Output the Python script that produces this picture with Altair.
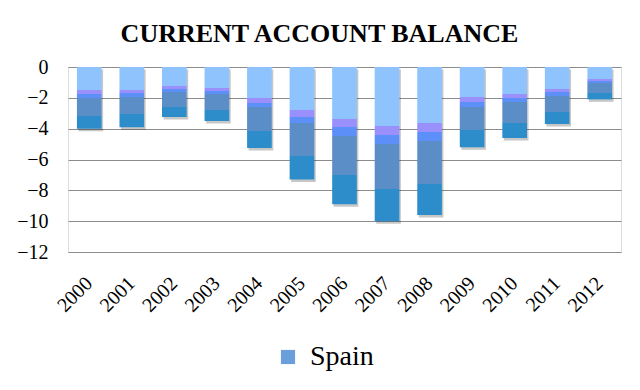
import altair as alt
import pandas as pd

years = ["2000", "2001", "2002", "2003", "2004", "2005", "2006",
         "2007", "2008", "2009", "2010", "2011", "2012"]
balance = [-4.0, -3.9, -3.25, -3.5, -5.25, -7.3, -8.9,
           -10.0, -9.6, -5.2, -4.6, -3.7, -2.1]
series = ["Spain"] * len(years)
y_ticks = [0, -2, -4, -6, -8, -10, -12]

df = pd.DataFrame({"year": years, "value": balance, "country": series})

SERIF = "Liberation Serif"

stops = [
    ("#8ec3fd", 0.0), ("#8ec3fd", 0.38),
    ("#9a90fb", 0.38), ("#9a90fb", 0.44),
    ("#5d8ff8", 0.44), ("#5d8ff8", 0.50),
    ("#5b8dc6", 0.50), ("#5b8dc6", 0.79),
    ("#2c8dca", 0.79), ("#2c8dca", 1.0),
]
grad = alt.Gradient(
    gradient="linear",
    stops=[alt.GradientStop(color=c, offset=o) for c, o in stops],
    x1=0, x2=0, y1=0, y2=1,
)

x_enc = alt.X(
    "year:N", sort=years, title=None,
    scale=alt.Scale(paddingInner=0.42, paddingOuter=0.21),
    axis=alt.Axis(labelAngle=-45, labelFont=SERIF, labelFontSize=20,
                  labelColor="#000", labelPadding=28, ticks=False,
                  domain=False, labelAlign="right", labelBaseline="middle"),
)
y_enc = alt.Y(
    "value:Q", title=None,
    scale=alt.Scale(domain=[-12, 0], nice=False, zero=True),
    axis=alt.Axis(values=y_ticks, labelFont=SERIF, labelFontSize=20,
                  labelColor="#000", labelPadding=20, ticks=False,
                  domain=False, grid=True, gridColor="#8c8c8c",
                  gridWidth=1.2, format="d"),
)

shadow = alt.Chart(df).mark_bar(
    color="#000000", opacity=0.22, xOffset=1.5, yOffset=2.5
).encode(x=x_enc, y=y_enc)

bars = alt.Chart(df).mark_bar(color=grad).encode(x=x_enc, y=y_enc)

legend_layer = alt.Chart(df).mark_bar(opacity=0).encode(
    x=x_enc, y=y_enc,
    color=alt.Color(
        "country:N", title=None,
        scale=alt.Scale(domain=["Spain"], range=["#6a9fdc"]),
        legend=alt.Legend(
            orient="none", legendX=206, legendY=276,
            symbolType="square", symbolSize=200, symbolOpacity=1,
            symbolStrokeWidth=0,
            labelFont=SERIF, labelFontSize=28, labelColor="#000",
            labelOffset=8,
        ),
    ),
)

chart = alt.layer(shadow, bars, legend_layer).properties(
    width=553, height=185,
    title=alt.TitleParams(
        "CURRENT ACCOUNT BALANCE", font=SERIF, fontSize=26,
        fontWeight="bold", color="#000", offset=10, dx=-25,
    ),
    autosize=alt.AutoSizeParams(type="none"),
    padding={"left": 60, "top": 59, "right": 11, "bottom": 130},
).configure_view(stroke=None).configure(background="#ffffff")

chart.save("out.html", embed_options={"renderer": "svg", "actions": False})
